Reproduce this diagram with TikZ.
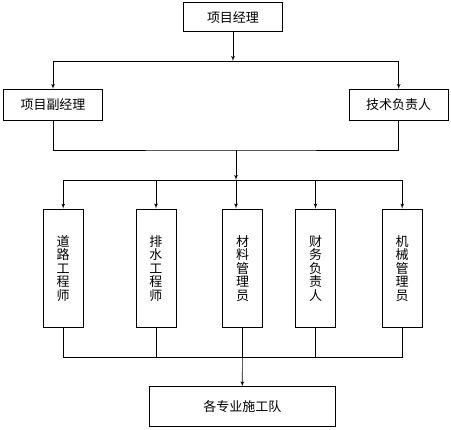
\documentclass[tikz,border=0pt]{standalone}
\usepackage{fontspec}
\setmainfont{Noto Sans CJK SC}
\usetikzlibrary{arrows}

\begin{document}
\begin{tikzpicture}[x=1pt, y=-1pt, ->, >=latex', line width=0.7pt,
		every node/.style={draw, inner sep=0pt, font=\fontsize{13}{13.4}\selectfont},
		hbox/.style={minimum width=99.5pt, minimum height=31.4pt},
		vbox/.style={minimum width=39.7pt, minimum height=118.7pt, align=center}]
		\useasboundingbox (0,0) rectangle (451,430);

		\node[hbox, minimum height=29pt]		(pm) at (233, 17.2) {项目经理};
		\node[hbox]							(dpm) at (53, 105) {项目副经理};
		\node[hbox]							(tech) at (398.7, 105) {技术负责人};
		\node[vbox]							(c1) at (63.2, 268.3) {道\\路\\工\\程\\师};
		\node[vbox]							(c2) at (156, 268.3) {排\\水\\工\\程\\师};
		\node[vbox]							(c3) at (242.5, 268.3) {材\\料\\管\\理\\员};
		\node[vbox]							(c4) at (315.5, 268.3) {财\\务\\负\\责\\人};
		\node[vbox]							(c5) at (402.2, 268.3) {机\\械\\管\\理\\员};
		\node[minimum width=186pt, minimum height=40pt]	(team) at (242.3, 406.7) {各专业施工队};

		\coordinate (top) at (233, 61);
		\coordinate (mid) at (236, 150);
		\coordinate (row) at (236, 180);
		\coordinate (low) at (242, 357.3);

		\draw (pm.south) -- (top);
		\draw (top) -| (dpm.north);
		\draw (top) -| (tech.north);
		\draw[-] (dpm.south) |- (mid) -| (tech.south);
		\draw (mid) -- (row);
		\draw (row) -- (row |- c3.north);
		\draw[-] (c1.north |- row) -- (c5.north |- row);
		\foreach \n in {c1, c2, c4, c5}
			\draw (\n.north |- row) -- (\n.north);
		\draw[-] (c1.south) -- (c1.south |- low) -- (c5.south |- low) -- (c5.south);
		\draw[-] (c2.south) -- (c2.south |- low);
		\draw[-] (c4.south) -- (c4.south |- low);
		\draw (c3.south) -- (team.north);
	\end{tikzpicture}
\end{document}
